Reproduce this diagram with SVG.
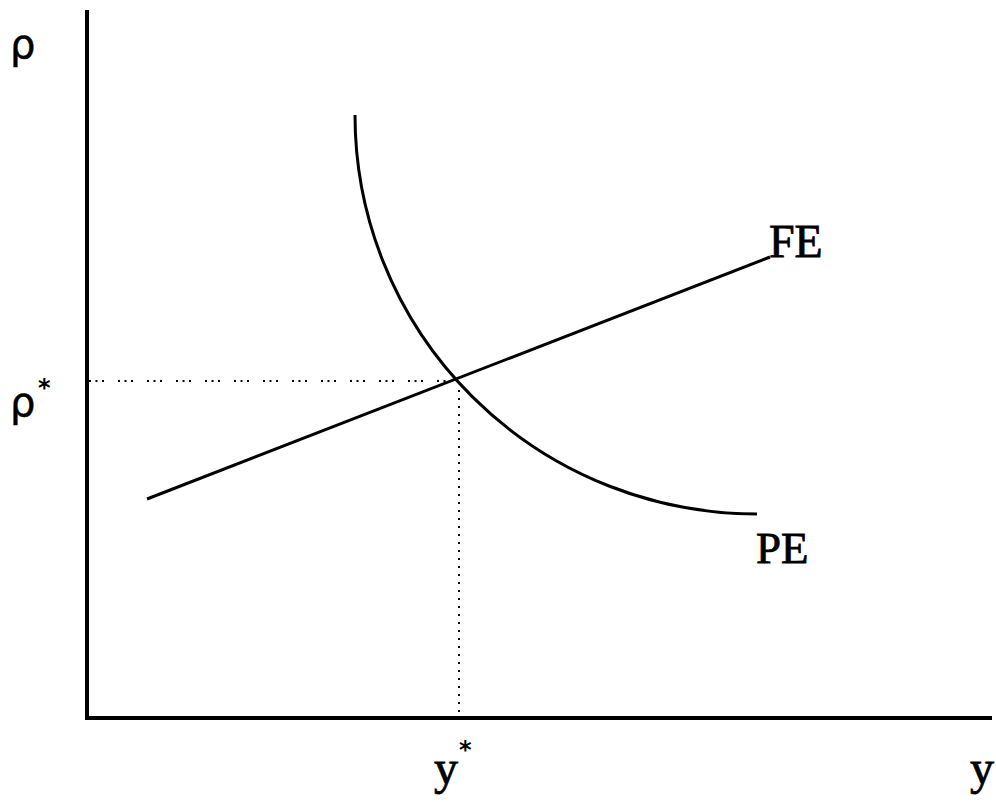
<svg xmlns="http://www.w3.org/2000/svg" width="996" height="802" viewBox="0 0 996 802">
<style>
.ax{stroke:#000;stroke-width:4;fill:none}
.ln{stroke:#000;stroke-width:3;fill:none}
.dot{stroke:#000;stroke-width:2;fill:none}
.t{font-family:"Liberation Serif",serif;fill:#000;stroke:#000;stroke-width:0.8}
.g{font-family:"DejaVu Sans",sans-serif;fill:#000;stroke:#000;stroke-width:0.5}
.s{font-family:"DejaVu Sans",sans-serif;fill:#000;font-weight:bold}
</style>
<rect width="996" height="802" fill="#fff"/>
<g id="axes">
<line class="ax" x1="87" y1="10" x2="87" y2="720"/>
<line class="ax" x1="85" y1="718" x2="992" y2="718"/>
</g>
<g id="connectors">
<line class="dot" x1="89" y1="381" x2="458" y2="381" stroke-dasharray="2 4.5 2 4.5 2 14"/>
<line class="dot" x1="459" y1="382" x2="459" y2="716" stroke-dasharray="2 6"/>
</g>
<g id="FE">
<line class="ln" x1="147" y1="499" x2="770" y2="257"/>
<text class="t" x="769" y="257" font-size="46">FE</text>
</g>
<g id="PE">
<path class="ln" d="M355,115 A402,399 0 0 0 757,514"/>
<text class="t" x="756" y="563" font-size="45">PE</text>
</g>
<g id="labels">
<text class="g" x="10" y="58" font-size="40">ρ</text>
<text class="g" x="10" y="416" font-size="40">ρ</text>
<text class="s" x="38" y="396" font-size="24">*</text>
<text class="t" x="434" y="784" font-size="48">y</text>
<text class="s" x="459" y="758" font-size="24">*</text>
<text class="t" x="970" y="784" font-size="48">y</text>
</g>
</svg>
